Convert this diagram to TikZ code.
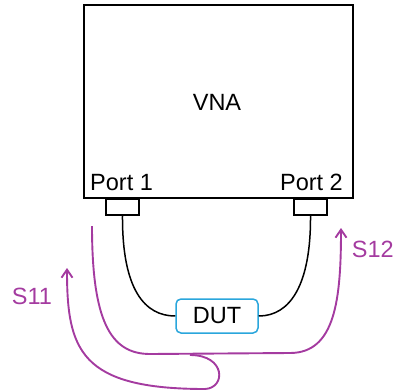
\documentclass[tikz,border=0pt]{standalone}
\usepackage{fontspec}
\setmainfont{Liberation Sans}
\usetikzlibrary{arrows.meta}
\definecolor{vio}{HTML}{A43BA0}
\definecolor{dutblue}{HTML}{2AA6DC}
\begin{document}
\begin{tikzpicture}[x=1pt,y=-1pt, font=\fontsize{23.5}{26}\selectfont,
  box/.style={draw, line width=1.5pt, inner sep=0pt},
  cable/.style={draw, line width=1.5pt},
  wave/.style={draw=vio, line width=1.9pt},
  wavetip/.style={-{Straight Barb[length=8pt,width=11pt,line width=1.9pt]}},
  lbl/.style={inner sep=0pt}]
\useasboundingbox (0,0) rectangle (396,391);
\node[box, minimum width=269pt, minimum height=193pt, anchor=north west] (vna) at (83,4) {};
\node[lbl] (vnalabel) at (217,102) {VNA};
\node[lbl, anchor=base west] (p1label) at (90,190) {Port 1};
\node[lbl, anchor=base east] (p2label) at (343,190) {Port 2};
\node[box, minimum width=33pt, minimum height=16pt, anchor=north] (p1) at (122.5,198) {};
\node[box, minimum width=33pt, minimum height=16pt, anchor=north] (p2) at (310.5,198) {};
\node[draw=dutblue, rounded corners=5pt, line width=1.5pt, minimum width=82pt, minimum height=34pt, inner sep=0pt] (dut) at (217,316) {DUT};
\draw[cable] (p1.south) .. controls (122,290) and (145,316) .. (dut.west);
\draw[cable] (p2.south) .. controls (311,285) and (290,316) .. (dut.east);
\coordinate (a0) at (92,226);
\coordinate (a1) at (150,354);
\coordinate (a2) at (290,353);
\coordinate (a3) at (341,228);
\coordinate (b0) at (190,355);
\coordinate (b1) at (205,389);
\coordinate (b2) at (67,268);
\draw[wave, wavetip] (a0) .. controls (92,320) and (110,354) .. (a1) -- (a2) .. controls (335,353) and (341,300) .. (a3);
\draw[wave, wavetip] (b0) .. controls (226,355) and (226,388) .. (b1) .. controls (80,389) and (67,350) .. (b2);
\node[lbl, text=vio] (s11) at (32,296) {S11};
\node[lbl, text=vio, anchor=east] (s12) at (394,249) {S12};
\end{tikzpicture}
\end{document}
